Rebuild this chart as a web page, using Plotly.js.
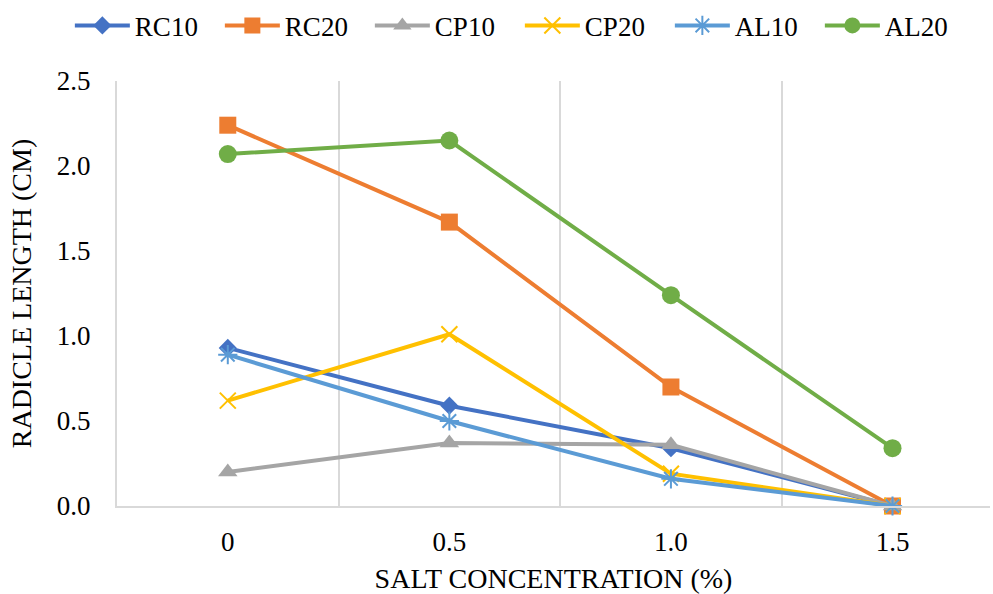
<!DOCTYPE html>
<html>
<head>
<meta charset="utf-8">
<script src="https://cdn.plot.ly/plotly-3.0.1.min.js"></script>
<style>html,body{margin:0;padding:0;background:#fff}#chart{width:993px;height:594px}</style>
</head>
<body>
<div id="chart"></div>
<script>
const categories = ["0", "0.5", "1.0", "1.5"];
const seriesNames = ["RC10", "RC20", "CP10", "CP20", "AL10", "AL20"];
const RC10 = [0.93, 0.59, 0.34, 0];
const RC20 = [2.24, 1.67, 0.70, 0];
const CP10 = [0.20, 0.37, 0.36, 0];
const CP20 = [0.62, 1.01, 0.19, 0];
const AL10 = [0.89, 0.50, 0.16, 0];
const AL20 = [2.07, 2.15, 1.24, 0.34];
const yTicks = [0, 0.5, 1.0, 1.5, 2.0, 2.5];
const yTickText = ["0.0", "0.5", "1.0", "1.5", "2.0", "2.5"];

const values = [RC10, RC20, CP10, CP20, AL10, AL20];
const colors = ["#4472C4", "#ED7D31", "#A5A5A5", "#FFC000", "#5B9BD5", "#70AD47"];
const symbols = ["diamond", "square", "triangle-up", "x-thin-open", "asterisk-open", "circle"];
const sizes = [14, 17, 17, 16, 16, 18];

const font = "'Liberation Serif', 'Times New Roman', serif";

const traces = seriesNames.map((name, i) => ({
  type: "scatter",
  mode: "lines+markers",
  name: name,
  x: categories,
  y: values[i],
  line: {color: colors[i], width: 4},
  marker: {
    symbol: symbols[i],
    size: sizes[i],
    color: colors[i],
    line: {color: colors[i], width: (symbols[i].endsWith("open") ? 2 : 0)}
  },
  cliponaxis: false
}));

const layout = {
  width: 993,
  height: 594,
  margin: {l: 117, r: 3, t: 80, b: 88},
  paper_bgcolor: "#ffffff",
  plot_bgcolor: "#ffffff",
  font: {family: font, size: 27, color: "#000000"},
  showlegend: true,
  legend: {
    orientation: "h",
    x: -0.054, xanchor: "left",
    y: 1.127, yanchor: "middle",
    itemwidth: 55,
    entrywidth: 80,
    entrywidthmode: "pixels",
    font: {family: font, size: 27, color: "#000"},
    tracegroupgap: 0,
    itemclick: false
  },
  xaxis: {
    type: "category",
    categoryorder: "array",
    categoryarray: categories,
    range: [-0.5, 3.44],
    tickson: "boundaries",
    showgrid: true,
    gridcolor: "#d9d9d9",
    gridwidth: 2,
    showline: true,
    linecolor: "#d9d9d9",
    linewidth: 2,
    ticks: "",
    ticklabelstandoff: 11,
    tickfont: {family: font, size: 27, color: "#000"},
    zeroline: false,
    title: {text: "SALT CONCENTRATION (%)", font: {family: font, size: 28, color: "#000"}, standoff: 17}
  },
  yaxis: {
    range: [0, 2.5],
    tickvals: yTicks,
    ticktext: yTickText,
    showgrid: false,
    showline: true,
    linecolor: "#d9d9d9",
    linewidth: 2,
    zeroline: false,
    ticks: "outside",
    ticklen: 19,
    tickcolor: "rgba(0,0,0,0)",
    tickfont: {family: font, size: 27, color: "#000"},
    title: {text: "RADICLE LENGTH (CM)", font: {family: font, size: 28, color: "#000"}, standoff: 17}
  }
};

Plotly.newPlot("chart", traces, layout, {displayModeBar: false, staticPlot: true});
</script>
</body>
</html>
